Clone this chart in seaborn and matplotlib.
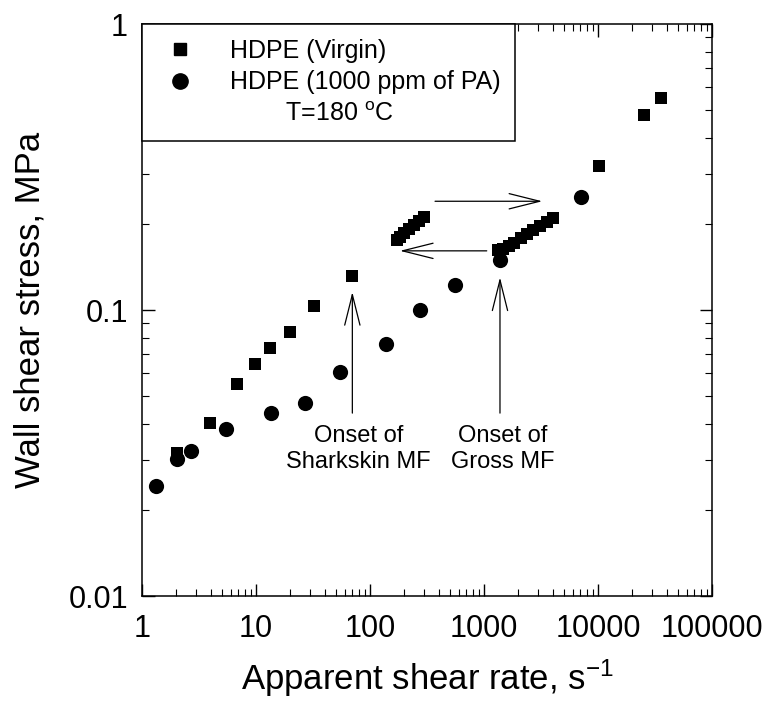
import matplotlib
matplotlib.use("Agg")
import matplotlib.pyplot as plt
import seaborn as sns
import pandas as pd
from matplotlib.ticker import FixedLocator, FixedFormatter, LogLocator, NullFormatter
from matplotlib.lines import Line2D

# ---- data ----
virgin_rate = [2.02, 3.95, 6.86, 9.8, 13.3, 19.9, 32.5, 70,
               171, 185, 200, 220, 245, 270, 300,
               1330, 1480, 1650, 1850, 2100, 2400, 2700, 3100, 3550, 4050,
               10200, 25200, 35600]
virgin_stress = [0.0316, 0.0404, 0.0551, 0.0645, 0.0738, 0.084, 0.1033, 0.131,
                 0.176, 0.180, 0.186, 0.192, 0.198, 0.205, 0.211,
                 0.162, 0.164, 0.168, 0.172, 0.178, 0.185, 0.190, 0.196, 0.203, 0.209,
                 0.319, 0.481, 0.55]
pa_rate = [1.33, 2.02, 2.69, 5.42, 13.5, 26.9, 54.6, 137, 275, 557, 1370, 7100]
pa_stress = [0.0242, 0.0301, 0.0322, 0.0383, 0.0435, 0.0474, 0.0607, 0.0759,
             0.100, 0.122, 0.150, 0.249]

label_virgin = "HDPE (Virgin)"
label_pa = "HDPE (1000 ppm of PA)"
label_temp = "T=180 $^{\\mathrm{o}}$C"

x_ticks = [1, 10, 100, 1000, 10000, 100000]
x_ticklabels = ["1", "10", "100", "1000", "10000", "100000"]
y_ticks = [0.01, 0.1, 1]
y_ticklabels = ["0.01", "0.1", "1"]

df_v = pd.DataFrame({"rate": virgin_rate, "stress": virgin_stress})
df_p = pd.DataFrame({"rate": pa_rate, "stress": pa_stress})

# ---- style ----
sns.set_theme(style="ticks")
plt.rcParams["font.family"] = ["Liberation Sans", "DejaVu Sans"]
plt.rcParams["mathtext.fontset"] = "custom"
plt.rcParams["mathtext.rm"] = "Liberation Sans"
plt.rcParams["mathtext.it"] = "Liberation Sans:italic"
plt.rcParams["text.color"] = "black"
plt.rcParams["axes.labelcolor"] = "black"
plt.rcParams["xtick.color"] = "black"
plt.rcParams["ytick.color"] = "black"

fig = plt.figure(figsize=(7.66, 7.10), dpi=100)
ax = fig.add_axes([142 / 766, 1 - 596 / 710, (712 - 142) / 766, (596 - 24) / 710])

sns.scatterplot(data=df_v, x="rate", y="stress", marker="s", s=80, color="black",
                edgecolor="black", linewidth=0, ax=ax, legend=False, zorder=3)
sns.scatterplot(data=df_p, x="rate", y="stress", marker="o", s=120, color="black",
                edgecolor="black", linewidth=0, ax=ax, legend=False, zorder=3)

ax.set_xscale("log")
ax.set_yscale("log")
ax.set_xlim(1, 100000)
ax.set_ylim(0.01, 1)

ax.xaxis.set_major_locator(FixedLocator(x_ticks))
ax.xaxis.set_major_formatter(FixedFormatter(x_ticklabels))
ax.yaxis.set_major_locator(FixedLocator(y_ticks))
ax.yaxis.set_major_formatter(FixedFormatter(y_ticklabels))
ax.xaxis.set_minor_locator(LogLocator(base=10, subs=range(2, 10), numticks=20))
ax.yaxis.set_minor_locator(LogLocator(base=10, subs=range(2, 10), numticks=20))
ax.xaxis.set_minor_formatter(NullFormatter())
ax.yaxis.set_minor_formatter(NullFormatter())

ax.tick_params(which="both", direction="in", top=True, right=True, colors="black",
               labelcolor="black")
ax.tick_params(which="major", length=9, width=1.0, labelsize=22)
ax.tick_params(axis="x", which="major", pad=13)
ax.tick_params(axis="y", which="major", pad=10)
ax.tick_params(which="minor", length=5, width=0.8)
for sp in ax.spines.values():
    sp.set_linewidth(1.1)
    sp.set_color("black")

ax.set_xlabel("Apparent shear rate, s$^{-1}$", fontsize=25, labelpad=10, color="black")
ax.set_ylabel("Wall shear stress, MPa", fontsize=25, labelpad=16, color="black")

# ---- legend ----
handles = [
    Line2D([], [], marker="s", color="black", linestyle="none", markersize=9),
    Line2D([], [], marker="o", color="black", linestyle="none", markersize=11),
    Line2D([], [], marker="none", linestyle="none"),
]
labels = [label_virgin, label_pa, "        " + label_temp]
leg = ax.legend(handles, labels, loc="upper left", bbox_to_anchor=(0, 1),
                borderaxespad=0, fontsize=18, frameon=True, fancybox=False,
                edgecolor="black", framealpha=1, handletextpad=1.1,
                labelspacing=0.3, borderpad=0.6, handlelength=1.8)
leg.get_frame().set_linewidth(1.1)
for t in leg.get_texts():
    t.set_color("black")

# ---- annotations ----
arrow = dict(arrowstyle="->,head_length=2.2,head_width=0.55", color="black",
             lw=0.9, mutation_scale=10, shrinkA=0, shrinkB=0)
ax.annotate("", xy=(70, 0.1156), xytext=(70, 0.0436), arrowprops=arrow)
ax.annotate("", xy=(1381, 0.130), xytext=(1381, 0.0436), arrowprops=arrow)
ax.annotate("", xy=(3245, 0.240), xytext=(372, 0.240), arrowprops=arrow)
ax.annotate("", xy=(183, 0.161), xytext=(1057, 0.161), arrowprops=arrow)

ax.text(79, 0.0327, "Onset of\nSharkskin MF", ha="center", va="center",
        fontsize=17, linespacing=1.25, color="black")
ax.text(1450, 0.0327, "Onset of\nGross MF", ha="center", va="center",
        fontsize=17, linespacing=1.25, color="black")

fig.savefig("out.png", dpi=100)
